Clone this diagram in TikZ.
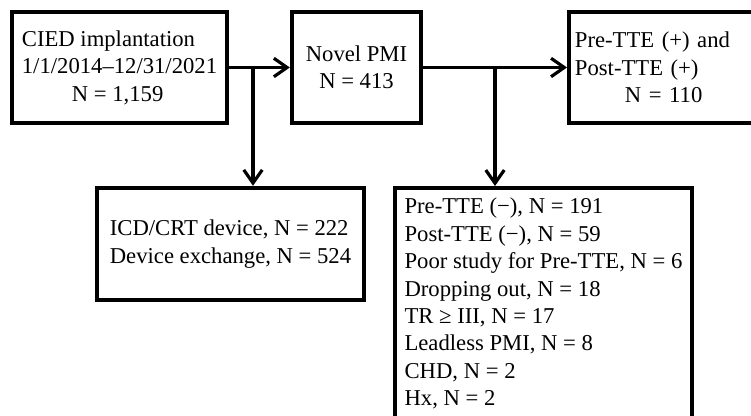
\documentclass[tikz,border=0pt]{standalone}
\usepackage{fontspec}
\setmainfont{Liberation Serif}
\usepackage{tikz}
\usetikzlibrary{arrows.meta,positioning,calc}

\begin{document}
\begin{tikzpicture}[
  box/.style={rectangle, draw, line width=2.2pt, align=left,
              font=\fontsize{12.9}{15.6}\selectfont,
              inner xsep=0.12cm, inner ysep=0.1cm},
  arr/.style={-{Straight Barb[length=7.5pt,width=10.5pt]}, line width=1.8pt}
]
\useasboundingbox (0,0) rectangle (15.02,8.32);
\clip (0,0) rectangle (15.02,8.32);

\node[box, minimum width=4.31cm, minimum height=2.23cm] (cied) at (2.39,6.97)
  {CIED implantation\\1/1/2014--12/31/2021\\\hspace*{1cm}N = 1,159};
\node[box, align=center, minimum width=2.59cm, minimum height=2.23cm] (pmi) at (7.13,6.97)
  {Novel PMI\\N = 413};
\node[box, anchor=west, text width=4.3cm, minimum height=2.23cm] (tte) at (11.34,6.97)
  {Pre-TTE (+) and\\Post-TTE (+)\\\hspace*{1cm}N = 110};
\node[box, minimum width=5.35cm, minimum height=2.25cm] (icd) at (4.61,3.44)
  {ICD/CRT device, N = 222\\Device exchange, N = 524};
\node[box, anchor=north, minimum width=5.94cm, minimum height=4.63cm] (neg) at (10.87,4.6)
  {Pre-TTE (−), N = 191\\Post-TTE (−), N = 59\\Poor study for Pre-TTE, N = 6\\
   Dropping out, N = 18\\TR ≥ III, N = 17\\Leadless PMI, N = 8\\CHD, N = 2\\Hx, N = 2};

\coordinate (j1) at (5.06,6.97);
\coordinate (j2) at (9.90,6.97);

\draw[arr] (cied) -- (pmi);
\draw[arr] (j1) -- (j1 |- icd.north);
\draw[arr] (pmi) -- (tte);
\draw[arr] (j2) -- (j2 |- neg.north);
\end{tikzpicture}
\end{document}
